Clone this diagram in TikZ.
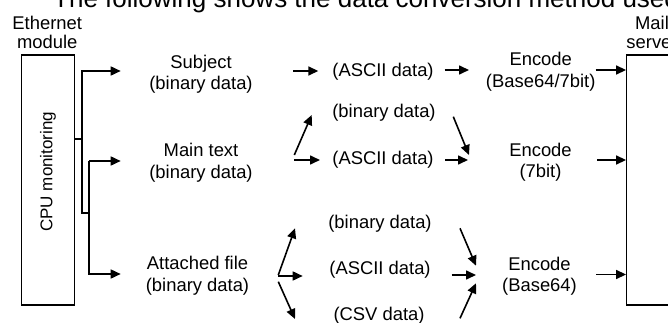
\documentclass[tikz,border=0pt]{standalone}
\usepackage{fontspec}
\setmainfont{Liberation Sans}
\usetikzlibrary{arrows.meta,calc}
\begin{document}
\begin{tikzpicture}[x=1pt,y=-1pt,
  txt/.style={inner sep=0pt, align=center, font=\fontsize{18.4}{21.5}\selectfont},
  lbl/.style={inner sep=0pt, align=center, font=\fontsize{18.4}{19}\selectfont},
  blk/.style={draw, line width=1.3pt, inner sep=0pt},
  arr/.style={line width=1.6pt, -{Triangle[length=10pt,width=9pt]}},
  ln/.style={line width=1.4pt}]
\useasboundingbox (0,0) rectangle (668,323);
\clip (0,0) rectangle (668,323);
% title (cut by the picture's edge)
\node[anchor=base west, inner sep=0pt, font=\fontsize{26}{30}\selectfont] (title) at (53,7.5) {The following shows the data conversion method used};
% end blocks
\node[lbl] (ethlbl) at (47.2,32.2) {Ethernet\\module};
\node[lbl] (maillbl) at (652,32.2) {Mail\\server};
\node[blk, rotate=90, minimum width=250pt, minimum height=52.6pt, font=\fontsize{17}{20}\selectfont] (cpu) at (48,180) {\hspace*{16.6pt}CPU monitoring};
\node[blk, minimum width=52.6pt, minimum height=250pt] (mail) at (653,180) {};
% column 1
\node[txt] (subj) at (201,74) {Subject\\(binary data)};
\node[txt] (main) at (201,162.5) {Main text\\(binary data)};
\node[txt] (att) at (197.5,275.5) {Attached file\\(binary data)};
% column 2
\node[txt] (asc1) at (383,71.5) {(ASCII data)};
\node[txt] (bin2) at (384,113) {(binary data)};
\node[txt] (asc2) at (383,160) {(ASCII data)};
\node[txt] (bin3) at (380,223.5) {(binary data)};
\node[txt] (asc3) at (380,269.5) {(ASCII data)};
\node[txt] (csv) at (379,316) {(CSV data)};
% column 3
\node[txt] (enc1) at (540.7,71.5) {Encode\\(Base64/7bit)};
\node[txt] (enc2) at (540.5,162) {Encode\\(7bit)};
\node[txt] (enc3) at (539.5,276) {Encode\\(Base64)};
% branching lines from the CPU block
\coordinate (b1) at (82,139);
\coordinate (b2) at (82,213);
\coordinate (b3) at (89,213);
\coordinate (b4) at (89,161);
\coordinate (tS) at (120.7,71);
\coordinate (tM) at (120.7,161);
\coordinate (tA) at (120.7,274);
\draw[ln] (cpu.south |- b1) -- (b1);
\draw[ln] (b1) -- (b2) -- (b3) -- (b4);
\draw[arr] (b1) |- (tS);
\draw[arr] (b4) -- (tM);
\draw[arr] (b3) |- (tA);
% subject row
\draw[arr] ($(subj.center)+(92.3,-3)$) -- ($(asc1.center)+(-64.7,-0.5)$);
\draw[arr] ($(asc1.center)+(61.7,-1.5)$) -- ($(enc1.center)+(-71.7,-1.5)$);
\draw[arr] ($(enc1.center)+(55,-1.5)$) -- ($(mail.west)+(0,-110)$);
% main text row
\draw[arr] ($(main.center)+(93.3,-7.5)$) -- ($(bin2.center)+(-72.3,2)$);
\draw[arr] ($(main.center)+(93.3,-2.5)$) -- ($(asc2.center)+(-63,0)$);
\draw[arr] ($(bin2.center)+(69.3,3.7)$) -- ($(enc2.center)+(-71.5,-7)$);
\draw[arr] ($(asc2.center)+(62,0)$) -- ($(enc2.center)+(-72.5,-2)$);
\draw[arr] ($(enc2.center)+(56.5,-2)$) -- ($(mail.west)+(0,-20)$);
% attached file row
\draw[arr] ($(att.center)+(80.8,-0.5)$) -- ($(bin3.center)+(-85,4.8)$);
\draw[arr] ($(att.center)+(80.8,0.5)$) -- ($(asc3.center)+(-77.3,6.5)$);
\draw[arr] ($(att.center)+(80.8,6.2)$) -- ($(csv.center)+(-84,3)$);
\draw[arr] ($(bin3.center)+(80,4.8)$) -- ($(enc3.center)+(-63.5,-10.3)$);
\draw[arr] ($(asc3.center)+(71.7,5.5)$) -- ($(enc3.center)+(-63.5,-1)$);
\draw[arr] ($(csv.center)+(81,2.3)$) -- ($(enc3.center)+(-63.5,7.3)$);
\draw[arr] ($(enc3.center)+(56.5,-1.5)$) -- ($(mail.west)+(0,94.5)$);
\end{tikzpicture}
\end{document}
